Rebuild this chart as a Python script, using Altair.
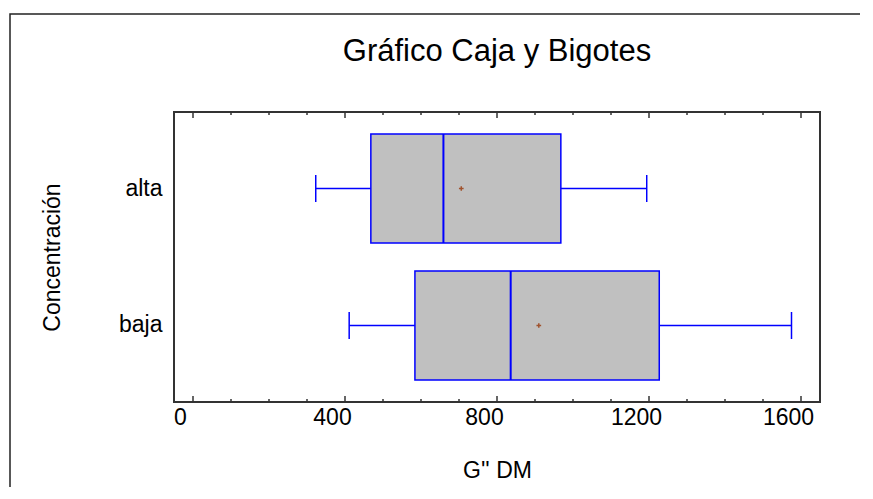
import altair as alt
import pandas as pd

# ---- data ----
categories = ["alta", "baja"]
whisker_low = [323, 411]
q1 = [468, 584]
median = [659, 836]
q3 = [968, 1227]
whisker_high = [1194, 1575]
means = [706, 910]

major_ticks = [0, 400, 800, 1200, 1600]
minor_ticks = [100, 200, 300, 500, 600, 700, 900, 1000, 1100, 1300, 1400, 1500]

FONT = "Liberation Sans, Arial"
BLUE = "#0000ff"

df = pd.DataFrame({
    "cat": categories, "low": whisker_low, "q1": q1, "med": median,
    "q3": q3, "high": whisker_high, "mean": means,
})
maj = pd.DataFrame({"v": major_ticks})
mnr = pd.DataFrame({"v": minor_ticks})

xscale = alt.Scale(domain=[-50, 1650], nice=False, zero=False)
yscale = alt.Scale(domain=categories, paddingInner=0.2044, paddingOuter=0.1606)

X = alt.X("q1:Q", scale=xscale, axis=alt.Axis(
    values=major_ticks, format="d", ticks=False, tickSize=0, domain=False, grid=False,
    labelFont=FONT, labelFontSize=23, labelColor="black", labelOffset=-13,
    labelPadding=4, labelFlush=False, title="G'' DM", titleFont=FONT,
    titleFontSize=23, titleFontWeight="normal", titleColor="black", titlePadding=30))
Y = alt.Y("cat:N", scale=yscale, sort=categories, axis=alt.Axis(
    ticks=False, tickSize=0, domain=False, grid=False, labelFont=FONT, labelFontSize=23,
    labelColor="black", labelPadding=12, title="Concentración", titleFont=FONT,
    titleFontSize=23, titleFontWeight="normal", titleColor="black", titlePadding=54))

base = alt.Chart(df)

whisk_lo = base.mark_rule(color=BLUE, strokeWidth=1.5).encode(
    x=alt.X("low:Q", scale=xscale), x2="q1:Q", y=Y)
whisk_hi = base.mark_rule(color=BLUE, strokeWidth=1.5).encode(
    x=alt.X("q3:Q", scale=xscale), x2="high:Q", y=Y)
cap_lo = base.mark_tick(color=BLUE, thickness=1.5, size=27, opacity=1).encode(
    x=alt.X("low:Q", scale=xscale), y=Y)
cap_hi = base.mark_tick(color=BLUE, thickness=1.5, size=27, opacity=1).encode(
    x=alt.X("high:Q", scale=xscale), y=Y)
box = base.mark_bar(fill="#c0c0c0", stroke=BLUE, strokeWidth=1.5).encode(
    x=X, x2="q3:Q", y=Y)
med = base.mark_tick(color=BLUE, thickness=2, size=109, opacity=1).encode(
    x=alt.X("med:Q", scale=xscale), y=Y)
mean_pt = base.mark_point(shape="M-1,0L1,0M0,-1L0,1", filled=False, size=22,
                          strokeWidth=1.5, color="#a0522d", opacity=1).encode(
    x=alt.X("mean:Q", scale=xscale), y=Y)

TC = "#333333"
bot_maj = alt.Chart(maj).mark_rule(color=TC, strokeWidth=1.5).encode(
    x=alt.X("v:Q", scale=xscale), y=alt.value(290), y2=alt.value(284))
top_maj = alt.Chart(maj).mark_rule(color=TC, strokeWidth=1.5).encode(
    x=alt.X("v:Q", scale=xscale), y=alt.value(0), y2=alt.value(6))
bot_min = alt.Chart(mnr).mark_rule(color=TC, strokeWidth=1.5).encode(
    x=alt.X("v:Q", scale=xscale), y=alt.value(290), y2=alt.value(287))
top_min = alt.Chart(mnr).mark_rule(color=TC, strokeWidth=1.5).encode(
    x=alt.X("v:Q", scale=xscale), y=alt.value(0), y2=alt.value(3))

border = alt.Chart(pd.DataFrame({"k": [0]})).mark_rect(
    fill=None, stroke="#222222", strokeWidth=1.5).encode(
    x=alt.value(-164), x2=alt.value(720), y=alt.value(-98), y2=alt.value(420))

chart = alt.layer(
    border, whisk_lo, whisk_hi, cap_lo, cap_hi, box, med, mean_pt,
    bot_maj, top_maj, bot_min, top_min,
).properties(
    width=646, height=290,
    autosize=alt.AutoSizeParams(type="none"),
    padding={"left": 166, "top": 104, "right": 40, "bottom": 85},
    title=alt.TitleParams("Gráfico Caja y Bigotes", font=FONT, fontSize=31,
                          fontWeight="normal", color="black", anchor="middle",
                          offset=0, dy=55),
).configure(background="white").configure_view(stroke="#333333", strokeWidth=2)

chart.save("out.html", embed_options={"renderer": "svg", "actions": False})
